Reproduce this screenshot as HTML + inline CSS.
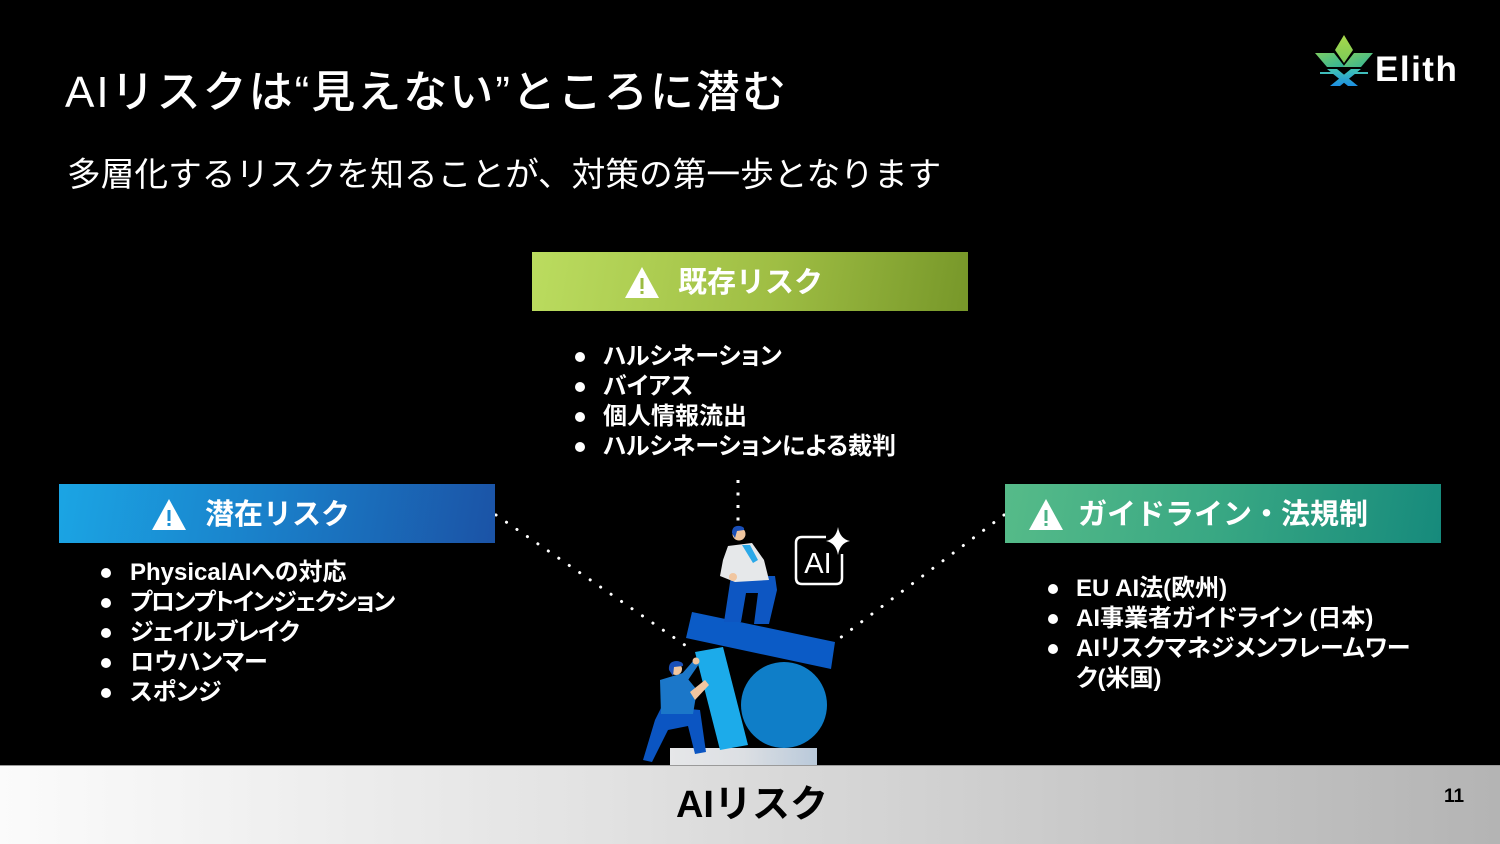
<!DOCTYPE html>
<html>
<head>
<meta charset="utf-8">
<style>
  html,body{margin:0;padding:0;}
  body{width:1500px;height:844px;background:#000;position:relative;overflow:hidden;
       font-family:"Liberation Sans","Noto Sans CJK JP",sans-serif;color:#fff;}
  .abs{position:absolute;}
  .title{left:65px;top:68px;font-size:44px;line-height:50px;white-space:nowrap;font-weight:500;letter-spacing:2px;}
  .sub{left:67px;top:153px;font-size:33.7px;line-height:44px;white-space:nowrap;}
  .hdr{position:absolute;height:59px;width:436px;}
  .hdr .t{position:absolute;top:2px;height:59px;line-height:59px;font-size:29px;font-weight:bold;color:#fff;white-space:nowrap;}
  .hdr svg{position:absolute;}
  .list{position:absolute;font-size:24px;font-weight:bold;line-height:30px;white-space:nowrap;font-feature-settings:"palt";}
  .list div{position:relative;height:30px;}
  .list div .b{position:absolute;width:10px;height:10px;border-radius:50%;background:#fff;top:10px;}
  .footer{left:0;top:765px;width:1500px;height:79px;background:linear-gradient(90deg,#fbfbfb 0%,#e2e2e2 40%,#b4b4b4 100%);border-top:1px solid #9a9a9a;box-sizing:border-box;}
  .ftxt{left:0;width:1504px;top:780px;text-align:center;font-size:38px;line-height:50px;font-weight:bold;color:#000;}
  .pg{left:1444px;top:785px;font-size:19px;line-height:24px;font-weight:bold;color:#000;}
  .logo{left:1375px;top:50px;font-size:35px;line-height:40px;font-weight:bold;color:#fff;letter-spacing:1.5px;}
</style>
</head>
<body>

<div class="abs title">AIリスクは“見えない”ところに潜む</div>
<div class="abs sub">多層化するリスクを知ることが、対策の第一歩となります</div>

<svg class="abs" style="left:0;top:0" width="1500" height="844" viewBox="0 0 1500 844">
  <defs>
    <linearGradient id="lg1" x1="0" y1="0" x2="0" y2="1"><stop offset="0" stop-color="#a8d84a"/><stop offset="1" stop-color="#7acb5a"/></linearGradient>
    <linearGradient id="lg2" x1="0" y1="0" x2="1" y2="1"><stop offset="0" stop-color="#7ccd62"/><stop offset="1" stop-color="#2fb39a"/></linearGradient>
    <linearGradient id="lg3" x1="0" y1="0" x2="0" y2="1"><stop offset="0" stop-color="#40c4b4"/><stop offset="1" stop-color="#1e8fe2"/></linearGradient>
    <linearGradient id="gBase" x1="0" y1="0" x2="1" y2="0"><stop offset="0" stop-color="#e6e7e9"/><stop offset="0.5" stop-color="#dcdfe3"/><stop offset="1" stop-color="#b9c9da"/></linearGradient>
  </defs>
  <!-- logo icon -->
  <polygon points="1344,35 1353,50 1344,63 1335,50" fill="url(#lg1)"/>
  <polygon points="1315,53 1334,53 1345,67 1327,67" fill="url(#lg2)"/>
  <polygon points="1373,53 1354,53 1343,67 1361,67" fill="url(#lg2)"/>
  <polygon points="1327,69 1337,69 1358,86 1348,86" fill="url(#lg3)"/>
  <polygon points="1361,69 1351,69 1330,86 1340,86" fill="url(#lg3)"/>
  <rect x="1320" y="72" width="14" height="2" fill="#3fbdbb"/>
  <rect x="1354" y="72" width="14" height="2" fill="#3fbdbb"/>

  <!-- dotted connectors -->
  <line x1="738" y1="480" x2="738" y2="522" stroke="#fff" stroke-width="3" stroke-dasharray="3 9.5"/>
  <line x1="496" y1="515" x2="692" y2="650" stroke="#fff" stroke-width="3" stroke-linecap="round" stroke-dasharray="0.1 12.6"/>
  <line x1="1004" y1="515" x2="832" y2="644" stroke="#fff" stroke-width="3" stroke-linecap="round" stroke-dasharray="0.1 12.6"/>

  <!-- AI icon -->
  <path d="M826,537 L802,537 Q796,537 796,543 L796,578 Q796,584 802,584 L836,584 Q842,584 842,578 L842,554" fill="none" stroke="#fff" stroke-width="2.5"/>
  <text x="818" y="573" font-family="Liberation Sans, sans-serif" font-size="29" fill="#fff" text-anchor="middle">AI</text>
  <path d="M838,527 Q840,539 850,541 Q840,543 838,555 Q836,543 826,541 Q836,539 838,527 Z" fill="#fff"/>

  <!-- illustration -->
  <rect x="670" y="748" width="147" height="17" fill="url(#gBase)"/>
  <circle cx="784" cy="705" r="43" fill="#0f7ec8"/>
  <polygon points="695,652 723,647 748,745 720,750" fill="#1cabea"/>
  <polygon points="692,612 835,642 831,669 686,638" fill="#0b5bc6"/>
  <!-- top person -->
  <polygon points="731,576 775,576 777,590 769,624 754,624 758,593 746,593 741,622 724,622" fill="#0d56c2"/>
  <polygon points="728,546 752,543 764,560 769,580 735,582 720,576 723,560" fill="#e6e8ea"/>
  <polygon points="742,545 750,545 758,560 753,563" fill="#2aa8e8"/>
  <circle cx="733" cy="577" r="4" fill="#f1c6a0"/>
  <circle cx="739" cy="534" r="6.5" fill="#f1c6a0"/>
  <path d="M732,533 Q732,525 740,526 Q745,527 744,530 L737,531 L735,538 Z" fill="#1a4fb8"/>
  <!-- bottom person -->
  <polygon points="662,706 700,710 706,752 695,754 688,726 668,730 652,762 643,760 655,720" fill="#0b55c2"/>
  <polygon points="660,680 683,673 697,690 693,714 661,714" fill="#1b77c9"/>
  <polygon points="680,676 694,660 699,664 686,683" fill="#1b77c9"/>
  <polygon points="690,692 705,680 709,685 695,700" fill="#f1c6a0"/>
  <circle cx="696" cy="661" r="3.5" fill="#f1c6a0"/>
  <circle cx="676" cy="669" r="6" fill="#f1c6a0"/>
  <path d="M669,670 Q668,661 677,661 Q684,662 683,666 L674,667 L673,676 Z" fill="#1a4fb8"/>
</svg>

<div class="abs logo">Elith</div>

<!-- Header: 既存リスク -->
<div class="hdr" style="left:532px;top:252px;background:linear-gradient(100deg,#bbdc5f 0%,#9fbe44 55%,#779729 100%);">
  <svg style="left:92px;top:14px" width="36" height="33" viewBox="0 0 36 33"><polygon points="18,1 35,32 1,32" fill="#fff"/><rect x="16.5" y="12" width="3" height="11" fill="#9bbb42"/><rect x="16.5" y="25" width="3" height="3" fill="#9bbb42"/></svg>
  <div class="t" style="left:146px;">既存リスク</div>
</div>

<!-- Header: 潜在リスク -->
<div class="hdr" style="left:59px;top:484px;background:linear-gradient(100deg,#1ba5e4 0%,#1a7ec8 50%,#1b53a6 100%);">
  <svg style="left:92px;top:14px" width="36" height="33" viewBox="0 0 36 33"><polygon points="18,1 35,32 1,32" fill="#fff"/><rect x="16.5" y="12" width="3" height="11" fill="#1a8fd4"/><rect x="16.5" y="25" width="3" height="3" fill="#1a8fd4"/></svg>
  <div class="t" style="left:146px;">潜在リスク</div>
</div>

<!-- Header: ガイドライン・法規制 -->
<div class="hdr" style="left:1005px;top:484px;background:linear-gradient(100deg,#56bb89 0%,#38a783 50%,#168a7c 100%);">
  <svg style="left:23px;top:14px" width="36" height="33" viewBox="0 0 36 33"><polygon points="18,1 35,32 1,32" fill="#fff"/><rect x="16.5" y="12" width="3" height="11" fill="#4cb387"/><rect x="16.5" y="25" width="3" height="3" fill="#4cb387"/></svg>
  <div class="t" style="left:73px;">ガイドライン・法規制</div>
</div>

<!-- Lists -->
<div class="list" style="left:575px;top:342px;">
  <div><span class="b" style="left:0"></span><span style="padding-left:28px">ハルシネーション</span></div>
  <div><span class="b" style="left:0"></span><span style="padding-left:28px">バイアス</span></div>
  <div><span class="b" style="left:0"></span><span style="padding-left:28px">個人情報流出</span></div>
  <div><span class="b" style="left:0"></span><span style="padding-left:28px">ハルシネーションによる裁判</span></div>
</div>

<div class="list" style="left:101px;top:558px;">
  <div><span class="b" style="left:0"></span><span style="padding-left:29px">PhysicalAIへの対応</span></div>
  <div><span class="b" style="left:0"></span><span style="padding-left:29px;letter-spacing:-1.5px">プロンプトインジェクション</span></div>
  <div><span class="b" style="left:0"></span><span style="padding-left:29px;letter-spacing:-1px">ジェイルブレイク</span></div>
  <div><span class="b" style="left:0"></span><span style="padding-left:29px">ロウハンマー</span></div>
  <div><span class="b" style="left:0"></span><span style="padding-left:29px">スポンジ</span></div>
</div>

<div class="list" style="left:1048px;top:574px;">
  <div><span class="b" style="left:0"></span><span style="padding-left:28px">EU AI法(欧州)</span></div>
  <div><span class="b" style="left:0"></span><span style="padding-left:28px">AI事業者ガイドライン (日本)</span></div>
  <div><span class="b" style="left:0"></span><span style="padding-left:28px">AIリスクマネジメンフレームワー</span></div>
  <div><span style="padding-left:28px">ク(米国)</span></div>
</div>

<!-- Footer -->
<div class="abs footer"></div>
<div class="abs ftxt">AIリスク</div>
<div class="abs pg">11</div>

</body>
</html>
